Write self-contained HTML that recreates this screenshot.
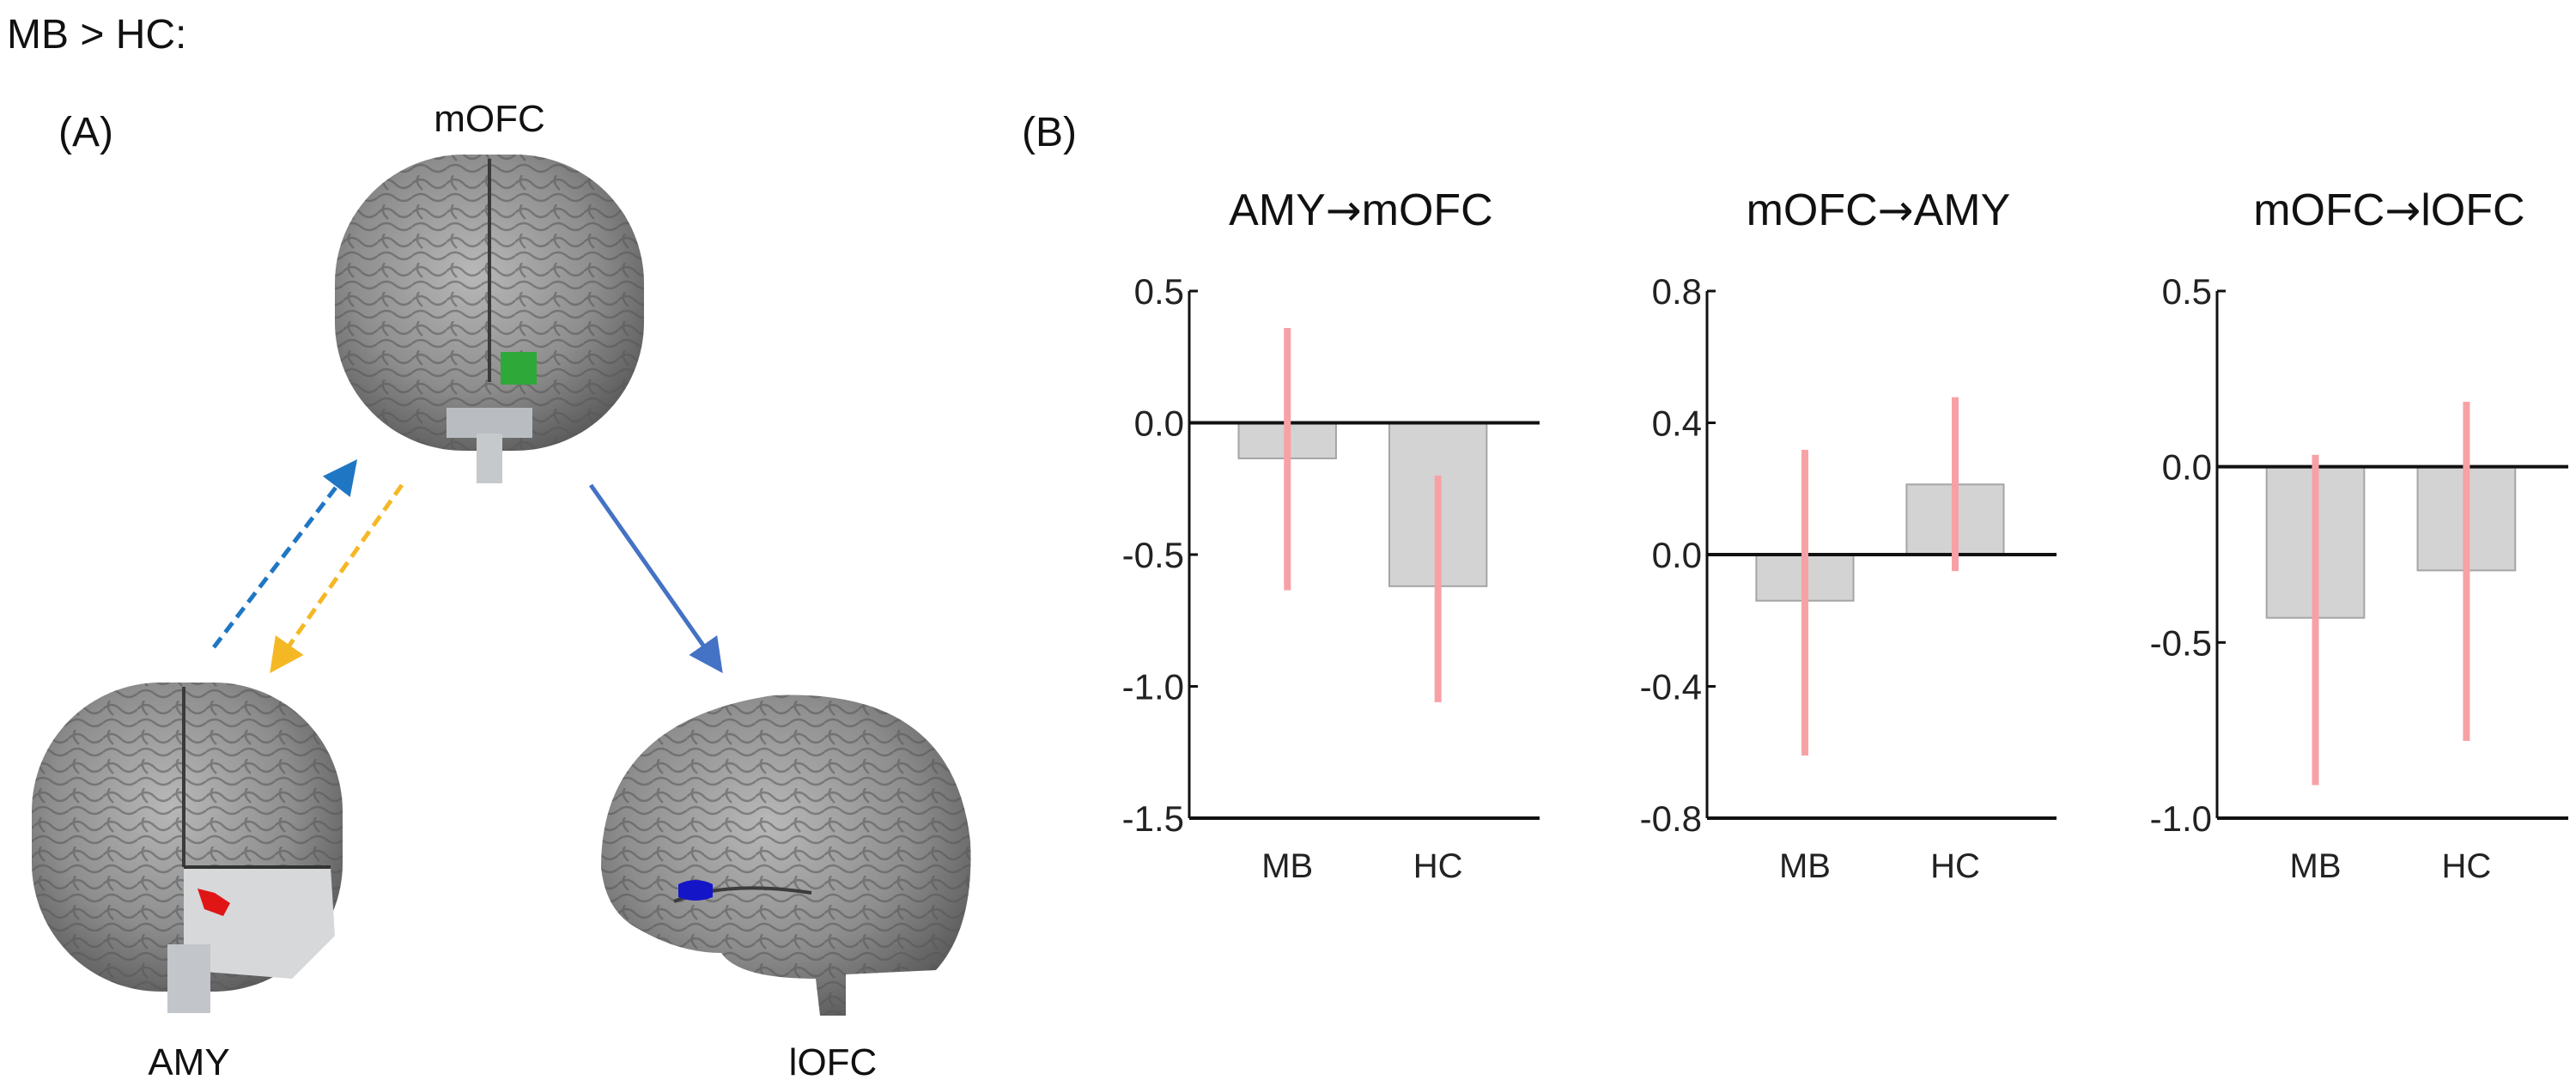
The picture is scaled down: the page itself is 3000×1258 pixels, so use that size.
<!DOCTYPE html>
<html><head><meta charset="utf-8"><style>
html,body{margin:0;padding:0;background:#fff;}
svg{display:block;font-family:"Liberation Sans",Arial,sans-serif;}
</style></head><body>
<svg id="fig" width="3000" height="1258" viewBox="0 0 3000 1258" xmlns="http://www.w3.org/2000/svg">
<defs>
<radialGradient id="brainG" cx="45%" cy="40%" r="65%">
<stop offset="0" stop-color="#b8b8b8"/><stop offset="0.6" stop-color="#8e8e8e"/><stop offset="1" stop-color="#5a5a5a"/>
</radialGradient>
<pattern id="gyri" width="40" height="34" patternUnits="userSpaceOnUse">
<path d="M0 10 q10 -10 20 0 t20 0 M0 26 q10 -8 20 0 t20 0 M8 0 q-6 8 4 17" stroke="#555" stroke-width="2.5" fill="none" opacity="0.55"/>
</pattern>
<marker id="arrBlue" markerWidth="8" markerHeight="8" refX="6" refY="4" orient="auto" markerUnits="strokeWidth"><path d="M0 0 L8 4 L0 8 z" fill="#1f77c4"/></marker>
<marker id="arrOr" markerWidth="8" markerHeight="8" refX="6" refY="4" orient="auto" markerUnits="strokeWidth"><path d="M0 0 L8 4 L0 8 z" fill="#f5b825"/></marker>
<marker id="arrSolid" markerWidth="8" markerHeight="8" refX="6" refY="4" orient="auto" markerUnits="strokeWidth"><path d="M0 0 L8 4 L0 8 z" fill="#4472c4"/></marker>
</defs>

<text x="8" y="56" font-size="48" fill="#111">MB &gt; HC:</text>
<text x="68" y="170" font-size="48" fill="#111">(A)</text>
<text x="1190" y="170" font-size="48" fill="#111">(B)</text>

<!-- brains -->
<g>
<rect x="390" y="180" width="360" height="345" rx="150" fill="url(#brainG)"/>
<rect x="390" y="180" width="360" height="345" rx="150" fill="url(#gyri)"/>
<path d="M520 475 h100 v35 h-100z" fill="#b9bdc2"/>
<line x1="570" y1="185" x2="570" y2="445" stroke="#3a3a3a" stroke-width="4"/>
<rect x="583" y="410" width="42" height="38" fill="#2fa83a"/>
<rect x="555" y="505" width="30" height="58" fill="#c5c9cc"/>
</g>
<g>
<rect x="37" y="795" width="362" height="360" rx="150" fill="url(#brainG)"/>
<rect x="37" y="795" width="362" height="360" rx="150" fill="url(#gyri)"/>
<line x1="214" y1="800" x2="214" y2="1010" stroke="#3a3a3a" stroke-width="4"/>
<path d="M214 1010 L385 1010 L390 1090 L340 1140 L214 1130 Z" fill="#d6d8da"/>
<line x1="214" y1="1010" x2="385" y2="1010" stroke="#333" stroke-width="4"/>
<path d="M230 1035 l20 5 l18 12 l-8 15 l-22 -8 z" fill="#e01515"/>
<rect x="195" y="1100" width="50" height="80" fill="#c2c6ca"/>
</g>
<g>
<path d="M700 1010 Q700 840 900 810 Q1110 800 1130 980 Q1135 1080 1090 1130 L985 1135 L985 1183 L955 1183 L950 1140 Q860 1140 840 1110 Q790 1110 740 1080 Q705 1060 700 1010Z" fill="url(#brainG)"/>
<path d="M700 1010 Q700 840 900 810 Q1110 800 1130 980 Q1135 1080 1090 1130 L985 1135 L985 1183 L955 1183 L950 1140 Q860 1140 840 1110 Q790 1110 740 1080 Q705 1060 700 1010Z" fill="url(#gyri)"/>
<path d="M785 1050 q60 -25 160 -10" stroke="#3b3b3b" stroke-width="4" fill="none"/>
<path d="M790 1030 q20 -10 40 0 l0 15 q-20 8 -40 0z" fill="#1515c8"/>
</g>

<text x="570" y="153" font-size="44" fill="#111" text-anchor="middle">mOFC</text>
<text x="220" y="1252" font-size="44" fill="#111" text-anchor="middle">AMY</text>
<text x="970" y="1252" font-size="44" fill="#111" text-anchor="middle">lOFC</text>

<line x1="249" y1="754" x2="410" y2="543" stroke="#1f77c4" stroke-width="5" stroke-dasharray="14 8" marker-end="url(#arrBlue)"/>
<line x1="468" y1="565" x2="320" y2="776" stroke="#f5b825" stroke-width="5" stroke-dasharray="14 8" marker-end="url(#arrOr)"/>
<line x1="688" y1="565" x2="836" y2="776" stroke="#4472c4" stroke-width="5" marker-end="url(#arrSolid)"/>

<g id="charts"></g>
</svg>
<script>
const categories = ["MB", "HC"];
const titlesFrom = ["AMY", "mOFC", "mOFC"];
const titlesTo = ["mOFC", "AMY", "lOFC"];
const barValues1 = [-0.135, -0.62];
const errLow1 = [-0.635, -1.06];
const errHigh1 = [0.36, -0.20];
const ticks1 = [0.5, 0.0, -0.5, -1.0, -1.5];
const barValues2 = [-0.14, 0.213];
const errLow2 = [-0.61, -0.05];
const errHigh2 = [0.318, 0.478];
const ticks2 = [0.8, 0.4, 0.0, -0.4, -0.8];
const barValues3 = [-0.43, -0.295];
const errLow3 = [-0.906, -0.78];
const errHigh3 = [0.034, 0.185];
const ticks3 = [0.5, 0.0, -0.5, -1.0];

const NS = "http://www.w3.org/2000/svg";
const root = document.getElementById("charts");
function mk(tag, attrs, parent) {
  const e = document.createElementNS(NS, tag);
  for (const k in attrs) e.setAttribute(k, attrs[k]);
  parent.appendChild(e);
  return e;
}
const panels = [
  {x0:1385, x1:1793, vals:barValues1, lo:errLow1, hi:errHigh1, ticks:ticks1},
  {x0:1988, x1:2395, vals:barValues2, lo:errLow2, hi:errHigh2, ticks:ticks2},
  {x0:2582, x1:2991, vals:barValues3, lo:errLow3, hi:errHigh3, ticks:ticks3}
];
const yTop = 339, yBot = 953;
panels.forEach((p, pi) => {
  const g = mk("g", {}, root);
  
  
  const tMax = p.ticks[0], tMin = p.ticks[p.ticks.length - 1];
  const y = v => yTop + (tMax - v) / (tMax - tMin) * (yBot - yTop);
  const w = p.x1 - p.x0;
  const t = mk("text", {x: p.x0 + w * 0.49, y: 262, "font-size": 52, "text-anchor": "middle", fill: "#111"}, g);
  
  
  const s1 = mk("tspan", {}, t); s1.textContent = titlesFrom[pi];
  const s2 = mk("tspan", {"font-family": "DejaVu Sans, sans-serif", "font-size": 50}, t); s2.textContent = "\u2192";
  const s3 = mk("tspan", {}, t); s3.textContent = titlesTo[pi];
  const ax = mk("line", {x1: p.x0, y1: yTop, x2: p.x0, y2: yBot, stroke: "#111", "stroke-width": 3}, g);
  
  
  p.ticks.forEach(tv => {
    const ty = y(tv);
    const tk = mk("line", {x1: p.x0, y1: ty, x2: p.x0 + 10, y2: ty, stroke: "#111", "stroke-width": 3}, g);
    
    
    const tl = mk("text", {x: p.x0 - 6, y: ty + 15, "font-size": 42, "text-anchor": "end", fill: "#222"}, g);
    tl.textContent = tv.toFixed(1);
    
    
  });
  const bw = w * 0.278;
  const centers = [p.x0 + w * 0.28, p.x0 + w * 0.71];
  p.vals.forEach((v, i) => {
    const y0 = y(0), yv = y(v);
    const b = mk("rect", {x: centers[i] - bw / 2, y: Math.min(y0, yv), width: bw, height: Math.abs(yv - y0), fill: "#d3d3d3", stroke: "#a5a5a5", "stroke-width": 2}, g);
    
    
  });
  const zl = mk("line", {x1: p.x0, y1: y(0), x2: p.x1, y2: y(0), stroke: "#111", "stroke-width": 4}, g);
  
  
  const bl = mk("line", {x1: p.x0, y1: yBot, x2: p.x1, y2: yBot, stroke: "#111", "stroke-width": 4}, g);
  
  
  p.vals.forEach((v, i) => {
    const e = mk("line", {x1: centers[i], y1: y(p.hi[i]), x2: centers[i], y2: y(p.lo[i]), stroke: "#f7a1a6", "stroke-width": 8}, g);
    
    
    const xl = mk("text", {x: centers[i], y: 1022, "font-size": 40, "text-anchor": "middle", fill: "#222"}, g);
    xl.textContent = categories[i];
    
    
  });
});
</script>
</body></html>
